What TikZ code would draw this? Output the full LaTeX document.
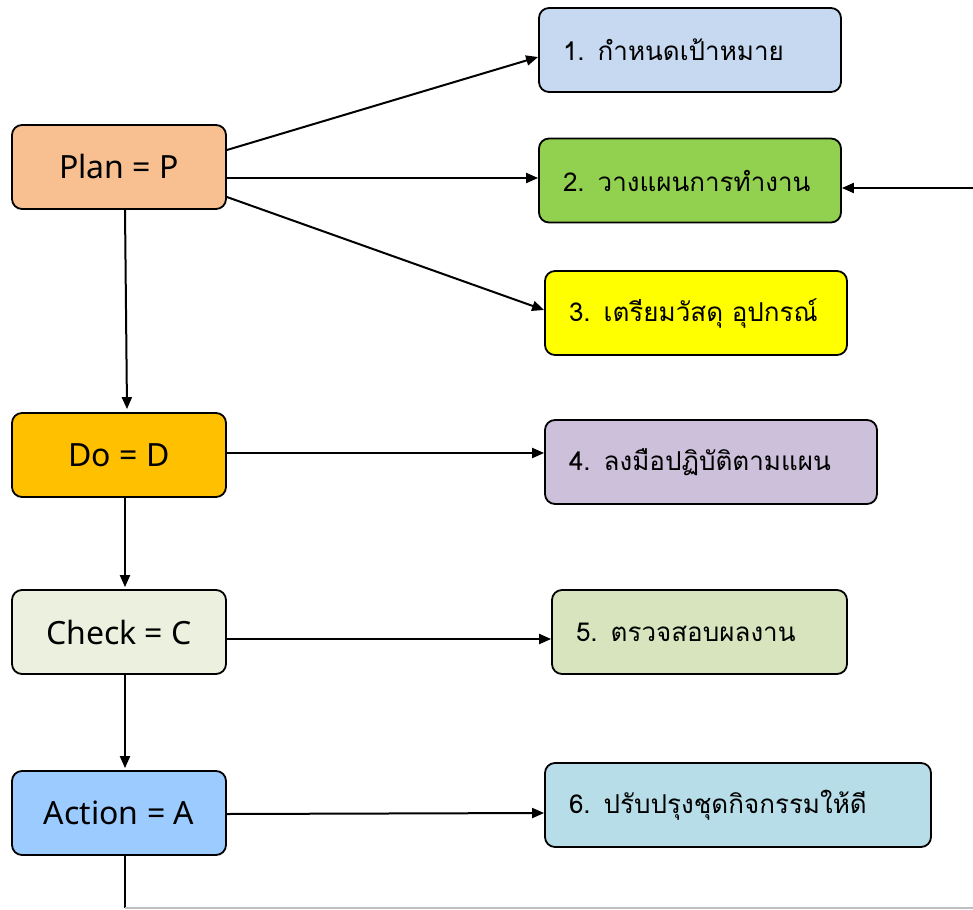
\documentclass[tikz,border=0pt]{standalone}
\usepackage{fontspec}
\setmainfont{Noto Sans}
\newfontfamily\thaifont[Script=Thai]{Loma}
\usetikzlibrary{arrows.meta}
\definecolor{cplan}{HTML}{F8C090}
\definecolor{cdo}{HTML}{FFC000}
\definecolor{ccheck}{HTML}{EBF1DE}
\definecolor{caction}{HTML}{9BCBFF}
\definecolor{cone}{HTML}{C6D9F1}
\definecolor{ctwo}{HTML}{92D050}
\definecolor{cthree}{HTML}{FFFF00}
\definecolor{cfour}{HTML}{CCC0DA}
\definecolor{cfive}{HTML}{D7E4BD}
\definecolor{csix}{HTML}{B7DEE8}
\tikzset{
  pbox/.style={draw=black, line width=1.8pt, rounded corners=10pt, minimum width=214pt, minimum height=84pt, inner sep=0pt, font=\fontsize{32}{36}\selectfont},
  tbox/.style={draw=black, line width=1.8pt, rounded corners=10pt, minimum height=84pt, inner sep=0pt, align=left, font=\thaifont\fontsize{26}{30}\selectfont},
  arr/.style={line width=2pt, -{Triangle[length=12pt,width=10pt]}}
}
\begin{document}
\begin{tikzpicture}[x=1pt,y=-1pt]
\useasboundingbox (0,0) rectangle (973,909);
% left column
\node[pbox, fill=cplan] (plan) at (119,167) {Plan = P};
\node[pbox, fill=cdo] (do) at (119,455) {Do = D};
\node[pbox, fill=ccheck] (check) at (119,632) {Check = C};
\node[pbox, fill=caction] (action) at (119,813) {Action = A};
% right column
\node[tbox, fill=cone, minimum width=302pt, text width=254pt] (b1) at (690,50) {1. กำหนดเป้าหมาย};
\node[tbox, fill=ctwo, minimum width=302pt, text width=254pt] (b2) at (690,180.5) {2. วางแผนการทำงาน};
\node[tbox, fill=cthree, minimum width=302pt, text width=254pt] (b3) at (696,313) {3. เตรียมวัสดุ อุปกรณ์};
\node[tbox, fill=cfour, minimum width=332pt, text width=284pt] (b4) at (711,462) {4. ลงมือปฏิบัติตามแผน};
\node[tbox, fill=cfive, minimum width=295pt, text width=247pt] (b5) at (699.5,632) {5. ตรวจสอบผลงาน};
\node[tbox, fill=csix, minimum width=386pt, text width=338pt] (b6) at (738,805) {6. ปรับปรุงชุดกิจกรรมให้ดี};
% plan arrows
\draw[arr] ([yshift=17pt]plan.east) -- ([yshift=-7pt]b1.west);
\draw[arr] ([yshift=-11pt]plan.east) -- ([yshift=2.5pt]b2.west);
\draw[arr] ([yshift=-30pt]plan.east) -- ([yshift=3pt]b3.west);
\draw[arr] ([xshift=6pt]plan.south) -- ([xshift=8pt,yshift=3pt]do.north);
% do
\draw[arr] ([yshift=2pt]do.east) -- ([yshift=9pt]b4.west);
\draw[arr] ([xshift=6pt]do.south) -- ([xshift=6pt,yshift=2pt]check.north);
% check
\draw[arr] ([yshift=-7pt]check.east) -- ([yshift=-7pt]b5.west);
\draw[arr] ([xshift=6pt]check.south) -- ([xshift=6pt,yshift=2pt]action.north);
% action
\draw[arr] ([yshift=-1pt]action.east) -- ([yshift=-8pt]b6.west);
\coordinate (bot) at (125,908);
\draw[line width=1.5pt] ([xshift=6pt]action.south) -- (bot);
\draw[gray!50, line width=1.2pt] (bot) -- (973,908);
% return arrow into box 2
\coordinate (rin) at (973,188);
\draw[arr] (rin) -- ([yshift=-7.5pt]b2.east);
\end{tikzpicture}
\end{document}
